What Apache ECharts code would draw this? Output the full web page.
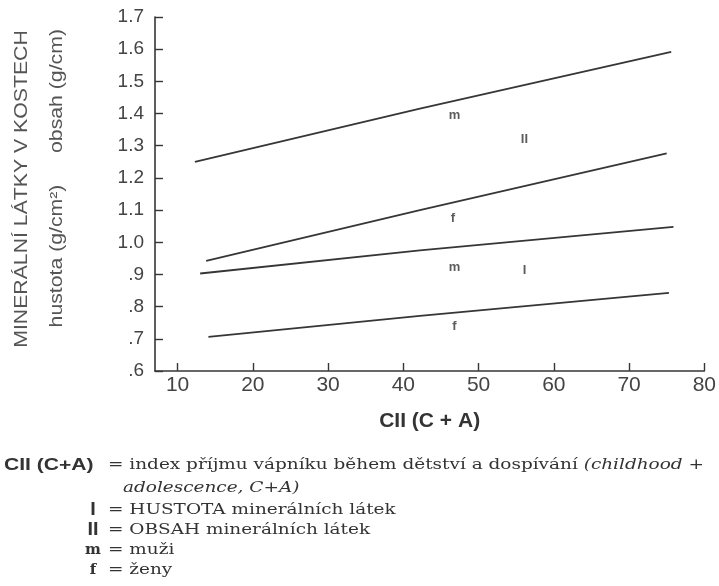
<!DOCTYPE html>
<html>
<head>
<meta charset="utf-8">
<script src="https://cdn.jsdelivr.net/npm/echarts@6/dist/echarts.min.js"></script>
<style>
html,body{margin:0;padding:0;background:#fff;}
#chart{width:719px;height:586px;}
</style>
</head>
<body>
<div id="chart"></div>
<script>
// ---- data ----
const xTickValues = [10, 20, 30, 40, 50, 60, 70, 80];
const yTickLabels = ['.6', '.7', '.8', '.9', '1.0', '1.1', '1.2', '1.3', '1.4', '1.5', '1.6', '1.7'];
const contentMen   = [[12.3, 1.250], [42.2, 1.415], [75.6, 1.592]];
const contentWomen = [[13.8, 0.942], [42.2, 1.100], [75.0, 1.276]];
const densityMen   = [[13.0, 0.903], [42.2, 0.975], [75.9, 1.048]];
const densityWomen = [[14.1, 0.706], [42.2, 0.771], [75.3, 0.843]];
const curveLabels = [
  ['m', 46.8, 1.395], ['II', 56.1, 1.320], ['f', 46.6, 1.075],
  ['m', 46.8, 0.923], ['I', 56.1, 0.911], ['f', 46.8, 0.740]
];
const legendKeys = ['CII (C+A)', 'I', 'II', 'm', 'f'];
const legendTexts = [
  '= index příjmu vápníku během dětství a dospívání {i|(childhood +}',
  '{i|adolescence, C+A)}',
  '= HUSTOTA minerálních látek',
  '= OBSAH minerálních látek',
  '= muži',
  '= ženy'
];
const axisTitle = 'MINERÁLNÍ LÁTKY V KOSTECH';
const axisSub1 = 'hustota (g/cm²)';
const axisSub2 = 'obsah (g/cm)';

const ink = '#363636';
const sans = '"Liberation Sans", Arial, sans-serif';
const serif = '"DejaVu Serif", serif';
const chart = echarts.init(document.getElementById('chart'));

function lineSeries(data) {
  return {
    type: 'line', data: data, symbol: 'none', smooth: false,
    lineStyle: { color: ink, width: 1.8 }, silent: true
  };
}

function vText(txt, x, y) {
  return { type: 'text', x: x, y: y, rotation: Math.PI / 2, scaleX: 1.18,
    style: { text: txt, fill: '#555', fontSize: 18, fontFamily: sans, align: 'center', verticalAlign: 'middle' } };
}
function keyText(txt, x, y, fam, align, size, sx) {
  return { type: 'text', x: x, y: y, scaleX: sx,
    style: { text: txt, fill: '#333', fontSize: size, fontWeight: 'bold', fontFamily: fam, align: align, verticalAlign: 'middle' } };
}
function descText(txt, x, y) {
  return { type: 'text', x: x, y: y, scaleX: 1.23,
    style: { text: txt, fill: '#333', fontSize: 15, fontFamily: serif, verticalAlign: 'middle',
      rich: { i: { fontStyle: 'italic', fontFamily: serif, fontSize: 15, fill: '#333' } } } };
}

chart.setOption({
  animation: false,
  grid: { left: 155, right: 14, top: 17, bottom: 215 },
  xAxis: {
    type: 'value', min: 7, max: 80,
    axisLine: { lineStyle: { color: ink, width: 1.6 } },
    axisTick: { inside: true, length: 8, customValues: xTickValues, lineStyle: { color: ink, width: 1.4 } },
    axisLabel: { customValues: xTickValues, color: '#444', fontSize: 21, fontFamily: sans, margin: 4 },
    splitLine: { show: false },
    name: 'CII (C + A)', nameLocation: 'middle', nameGap: 40,
    nameTextStyle: { color: '#333', fontSize: 21, fontWeight: 'bold', fontFamily: sans }
  },
  yAxis: {
    type: 'value', min: 0.6, max: 1.7, interval: 0.1,
    axisLine: { show: true, lineStyle: { color: ink, width: 1.6 } },
    axisTick: { show: true, inside: true, length: 8, lineStyle: { color: ink, width: 1.4 } },
    axisLabel: {
      color: '#444', fontSize: 19, fontFamily: sans, margin: 11,
      formatter: function (v) { return yTickLabels[Math.round((v - 0.6) * 10)]; }
    },
    splitLine: { show: false }
  },
  series: [
    lineSeries(contentMen), lineSeries(contentWomen),
    lineSeries(densityMen), lineSeries(densityWomen),
    {
      type: 'scatter', symbolSize: 0, silent: true,
      data: curveLabels.map(function (d) { return { name: d[0], value: [d[1], d[2]] }; }),
      label: {
        show: true, position: 'inside', formatter: '{b}',
        color: '#333', fontSize: 13, fontWeight: 'bold', fontFamily: sans
      }
    }
  ],
  graphic: [
    vText(axisTitle, 22, 189),
    vText(axisSub1, 57, 256),
    vText(axisSub2, 57, 91),
    keyText(legendKeys[0], 4, 465, sans, 'left', 17, 1.24),
    keyText(legendKeys[1], 93, 510, sans, 'center', 18, 1.1),
    keyText(legendKeys[2], 93, 530, sans, 'center', 18, 1.1),
    keyText(legendKeys[3], 93, 550, serif, 'center', 15, 1),
    keyText(legendKeys[4], 93, 570, serif, 'center', 15, 1),
    descText(legendTexts[0], 108, 465),
    descText(legendTexts[1], 123, 488),
    descText(legendTexts[2], 108, 510),
    descText(legendTexts[3], 108, 530),
    descText(legendTexts[4], 108, 550),
    descText(legendTexts[5], 108, 570)
  ]
});
</script>
</body>
</html>
